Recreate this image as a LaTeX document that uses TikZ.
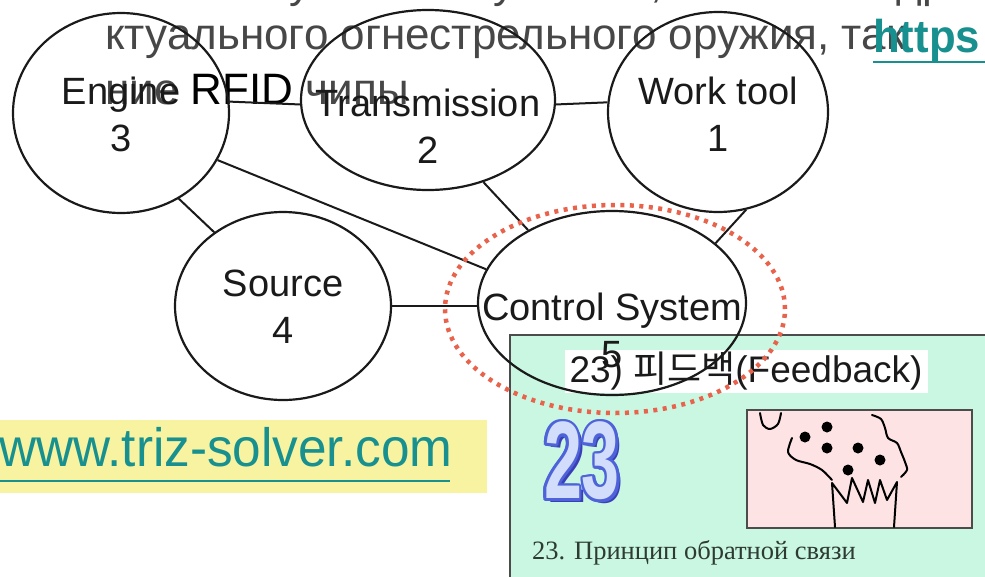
\documentclass[tikz,border=0pt]{standalone}
\usepackage{fontspec}
\setmainfont{Liberation Sans}
\newfontfamily\serifru{Liberation Serif}
\newfontfamily\krfont{Noto Sans CJK KR}
\usetikzlibrary{shapes.geometric}

\definecolor{inkline}{HTML}{1A1A1A}
\definecolor{mint}{HTML}{C9F7E1}
\definecolor{rose}{HTML}{FDE3E3}
\definecolor{urlteal}{HTML}{17908F}
\definecolor{dotred}{HTML}{E8624C}
\definecolor{paleyellow}{HTML}{F7F3A1}
\definecolor{digitblue}{HTML}{4E63D9}
\definecolor{digitshade}{HTML}{3A3FB8}
\definecolor{digitfill}{HTML}{D2DDFB}
\definecolor{captiongreen}{HTML}{2E3B33}

\begin{document}
\begin{tikzpicture}[x=1pt,y=-1pt,
  ell/.style={ellipse, draw=inkline, line width=2.2pt, inner sep=0pt},
  lbl/.style={font=\fontsize{38}{47}\selectfont, align=center, text=inkline, inner sep=0pt},
  link/.style={draw=inkline, line width=2pt},
  rutext/.style={font=\fontsize{44}{50}\selectfont, text=black!72, anchor=base west, inner sep=0pt},
  digit/.style={font=\bfseries\fontsize{110}{110}\selectfont, xscale=0.62, inner sep=0pt},
  framebox/.style={draw=black!70, line width=1.5pt},
  treeline/.style={draw=black, line width=2pt, line cap=round, line join=round},
]
\useasboundingbox (0,0) rectangle (985,576);
\fill[white] (0,0) rectangle (985,576);

% ---- card: principle 23, feedback ----
\path[framebox, fill=mint] (510,335) rectangle (995,590);
\path[framebox, fill=rose] (747,410) rectangle (972,528);

% tree in the picture
\draw[treeline] plot[smooth] coordinates {(760,413) (763,425) (770,429) (778,424) (781,413)};
\draw[treeline] (835,527) -- (832,483) -- (847,503) -- (852,478) -- (863,502) -- (868,480)
  -- (875,503) -- (880,480) -- (887,500) -- (897,482) -- (894,527);
\draw[treeline] plot[smooth] coordinates {(792,438) (788,452) (796,460) (810,464) (822,470) (832,480)};
\draw[treeline] plot[smooth] coordinates {(872,415) (881,419) (885,428) (888,438) (897,443)
  (901,452) (905,462) (907,470) (901,477)};
\foreach \p in {(827,427),(805,437),(827,448),(858,448),(880,460),(848,470)}
  \fill[black] \p circle[radius=5.5];

% outlined number
\node[digit, text=digitshade] (numshade) at (586,465) {23};
\foreach \a in {0,30,...,330}{
  \begin{scope}[shift={(\a:2.6)}]
    \node[digit, text=digitblue] at (582,461) {23};
  \end{scope}
}
\node[digit, text=digitfill] (num) at (582,461) {23};

\node[font=\serifru\fontsize{26.5}{26.5}\selectfont, text=captiongreen, anchor=base west, inner sep=0pt]
  (caption) at (532,559) {23. Принцип обратной связи};

\node[fill=white, minimum width=363, minimum height=43, inner sep=0pt,
  font=\fontsize{37}{37}\selectfont, text=inkline] (cardtitle) at (746,371)
  {23) {\krfont 피드백}(Feedback)};

% ---- site banner ----
\fill[paleyellow] (0,420) rectangle (487,493);
\node[font=\fontsize{54}{54}\selectfont, xscale=0.95, text=urlteal, anchor=base west, inner sep=0pt]
  (site) at (-1,466) {www.triz-solver.com};
\draw[urlteal, line width=2.5pt] (0,481) -- (450,481);

% ---- running text above the diagram ----
\node[rutext] (ruA) at (105,-3) {ния с актуальной пушками, а также от др};
\node[rutext] (ruB) at (105,49) {ктуального огнестрельного оружия, так};
\node[rutext] (ruC) at (105,104) {ние {\color{black}RFID} чипы};
\node[font=\bfseries\fontsize{46}{46}\selectfont, xscale=0.95, text=urlteal, anchor=base west, inner sep=0pt]
  (link) at (873,52) {https};
\draw[urlteal, line width=2.5pt] (873,62) -- (990,62);

% ---- system diagram ----
\node[ell, minimum width=216, minimum height=200] (eng) at (121,113) {};
\node[ell, minimum width=254, minimum height=180] (trans) at (428,100) {};
\node[ell, minimum width=220, minimum height=200] (work) at (718,112) {};
\node[ell, minimum width=216, minimum height=188] (src) at (283,306) {};
\node[ell, minimum width=268, minimum height=184] (ctrl) at (612,303) {};

\node[lbl] (engtext) at (121,114) {Engine\\3};
\node[lbl] (transtext) at (428,126) {Transmission\\2};
\node[lbl] (worktext) at (718,114) {Work tool\\1};
\node[lbl] (srctext) at (283,307) {Source\\4};
\node[lbl] (ctrltext) at (612,330) {Control System\\5};

\draw[link] (eng.6) -- (trans.-178);
\draw[link] (trans.-2) -- (work.175);
\draw[link] (eng.-56) -- (src.133);
\draw[link] (eng.-26) -- (ctrl.165);
\draw[link] (src.east) -- (src.east -| ctrl.west);
\draw[link] (trans.-56) -- (ctrl.139);
\draw[link] (work.-74) -- (ctrl.30);

% highlight round the control system
\node[ellipse, draw=dotred, line width=4.5pt, dash pattern=on 4pt off 5.5pt,
  minimum width=340, minimum height=208, inner sep=0pt] (focus) at (615,309) {};
\end{tikzpicture}
\end{document}
